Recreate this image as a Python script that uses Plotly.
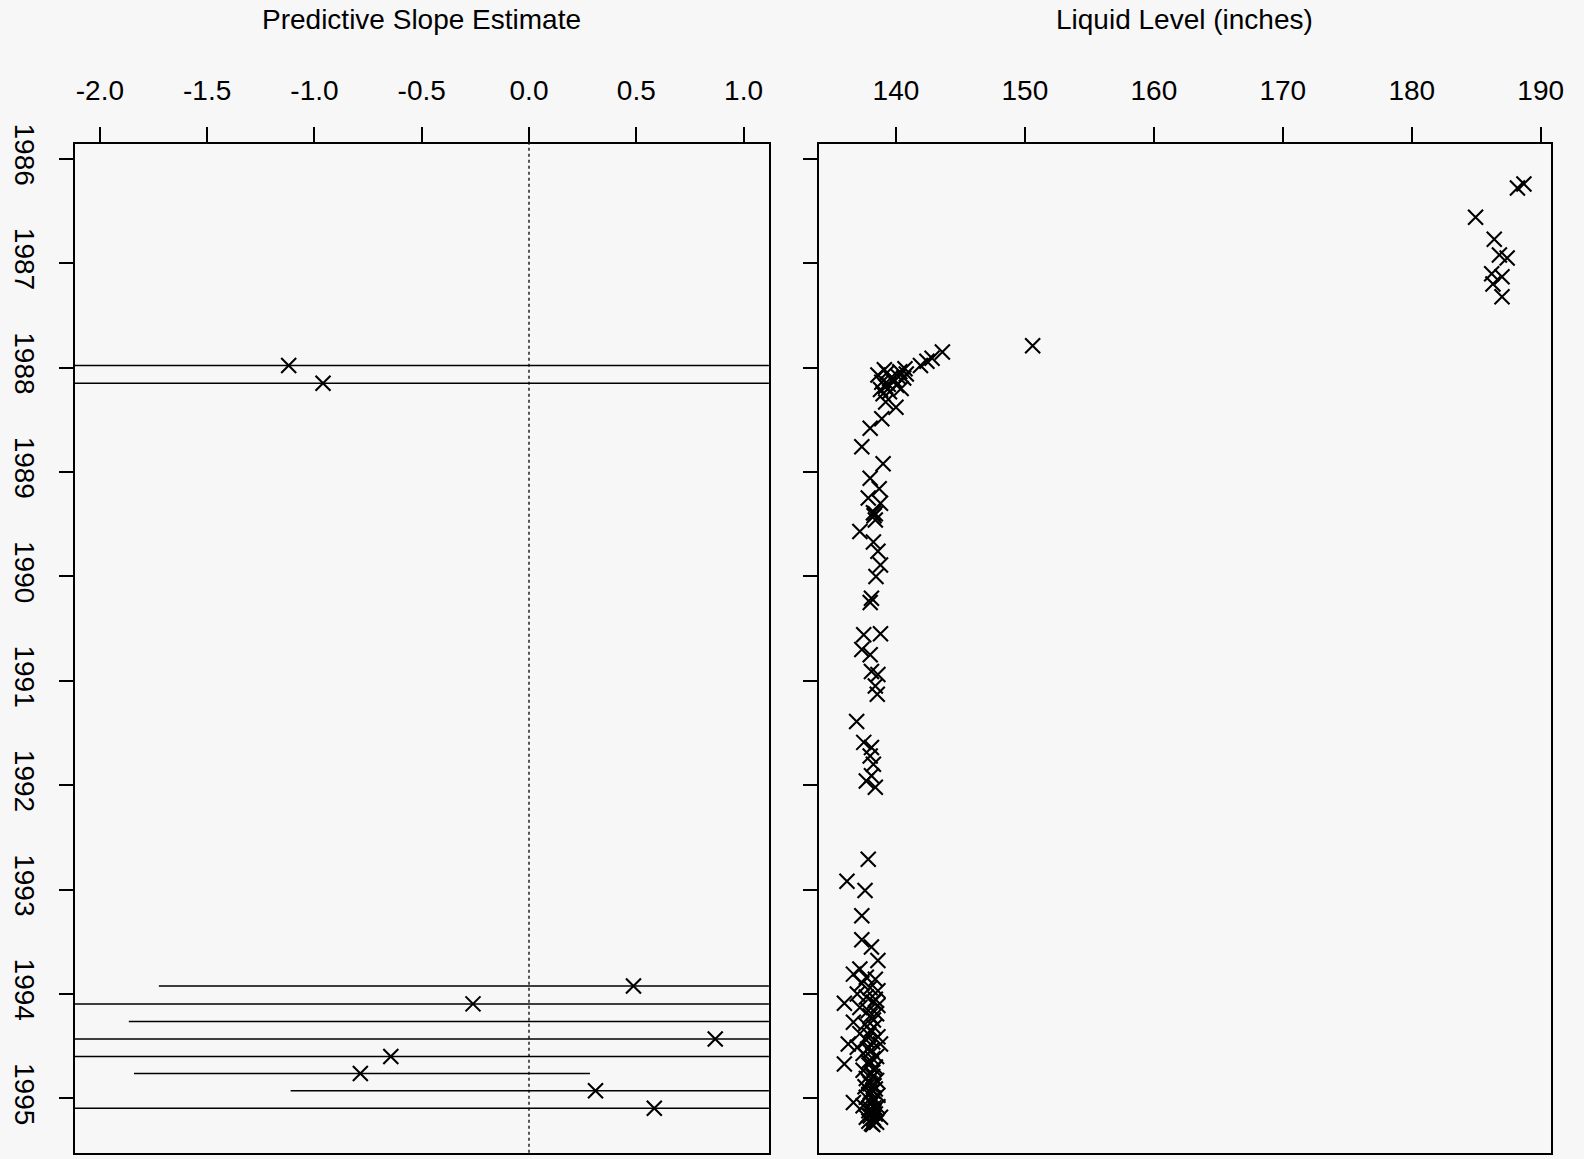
import plotly.graph_objects as go

# ---- data -------------------------------------------------------------
years = list(range(1986, 1996))
year_labels = [str(y) for y in years]

slope_ticks = [-2.0, -1.5, -1.0, -0.5, 0.0, 0.5, 1.0]
slope_tick_labels = ["-2.0", "-1.5", "-1.0", "-0.5", "0.0", "0.5", "1.0"]
level_ticks = [140, 150, 160, 170, 180, 190]

# predictive slope estimates with interval bounds (decimal year)
slope_dates = [1987.98, 1988.15, 1993.924, 1994.095, 1994.263, 1994.432,
               1994.600, 1994.762, 1994.927, 1995.095]
slope_est = [-1.12, -0.96, 0.487, -0.261, None, 0.868,
             -0.644, -0.786, 0.310, 0.584]
slope_lo = [-2.5, -2.5, -1.725, -2.5, -1.865, -2.5,
            -2.5, -1.841, -1.111, -2.5]
slope_hi = [1.5, 1.5, 1.5, 1.5, 1.5, 1.5,
            1.5, 0.284, 1.5, 1.5]

# liquid level readings (decimal year, inches)
level_dates = [
    1986.24, 1986.28, 1986.56, 1986.77, 1986.92, 1986.95, 1987.10, 1987.13,
    1987.20, 1987.32,
    1987.79, 1987.85, 1987.91, 1987.94, 1987.98, 1988.01, 1988.04, 1988.02,
    1988.10, 1988.14, 1988.18, 1988.17, 1988.10, 1988.23, 1988.20, 1988.07,
    1988.12, 1988.06, 1988.21, 1988.33, 1988.38, 1988.49, 1988.58, 1988.757,
    1988.05, 1988.13, 1988.16, 1988.09, 1988.25,
    1988.92, 1989.06, 1989.16, 1989.25, 1989.30, 1989.39, 1989.46, 1989.57,
    1989.67, 1989.76, 1989.89, 1990.00, 1990.21, 1990.25,
    1989.40, 1989.42,
    1990.56, 1990.55, 1990.70, 1990.75, 1990.91, 1990.94, 1991.05, 1991.13,
    1991.39, 1991.59, 1991.64, 1991.72, 1991.80, 1991.96, 1991.91, 1992.02,
    1992.71, 1992.92, 1993.01, 1993.25, 1993.48, 1993.55, 1993.68,
    1993.76, 1993.81, 1993.84, 1993.86, 1993.90, 1993.94, 1993.97, 1994.00,
    1994.03, 1994.09, 1994.08, 1994.13, 1994.16, 1994.19, 1994.27, 1994.29,
    1994.25, 1994.35, 1994.38, 1994.41, 1994.44, 1994.48, 1994.48, 1994.51,
    1994.54, 1994.57, 1994.60, 1994.67, 1994.65, 1994.70, 1994.73, 1994.76,
    1994.81, 1994.83, 1994.86, 1994.89, 1994.91, 1994.94, 1994.97, 1994.99,
    1995.04, 1995.02, 1995.07, 1995.08, 1995.10, 1995.15, 1995.16, 1995.19,
    1995.23, 1995.24, 1995.18, 1995.18,
    1994.05, 1994.11, 1994.21, 1994.32, 1994.39, 1994.46, 1994.53, 1994.62,
    1994.68, 1994.72, 1994.79, 1994.84, 1994.88, 1994.93, 1994.96, 1995.00,
    1995.05, 1995.09, 1995.12, 1995.14, 1995.17, 1995.21, 1995.22, 1995.25,
]
level_values = [
    188.7, 188.2, 184.95, 186.4, 186.8, 187.4, 186.2, 187.0,
    186.3, 187.0,
    150.6, 143.6, 142.8, 142.4, 141.9, 140.7, 140.3, 139.1,
    139.6, 138.9, 139.2, 140.05, 140.6, 139.5, 140.4, 138.6,
    139.9, 140.8, 138.8, 139.2, 140.0, 138.9, 138.0, 137.35,
    139.3, 139.8, 139.4, 140.2, 139.0,
    139.0, 138.0, 138.7, 137.85, 138.8, 138.25, 138.4, 137.2,
    138.25, 138.6, 138.8, 138.45, 138.1, 138.0,
    138.4, 138.3,
    137.5, 138.8, 137.35, 138.0, 138.1, 138.6, 138.4, 138.55,
    136.95, 137.5, 138.1, 138.0, 138.25, 137.7, 138.1, 138.4,
    137.85, 136.2, 137.6, 137.35, 137.35, 138.1, 138.6,
    137.2, 136.7, 137.7, 138.4, 137.35, 138.0, 138.6, 137.0,
    137.7, 136.0, 138.25, 137.2, 137.85, 138.5, 136.7, 137.6,
    138.25, 138.0, 137.2, 138.6, 137.7, 136.3, 138.8, 137.0,
    138.1, 137.45, 138.5, 136.0, 137.85, 138.4, 137.45, 138.1,
    137.7, 138.5, 138.0, 137.6, 138.4, 138.0, 138.6, 137.7,
    136.7, 138.25, 137.45, 138.6, 138.0, 138.4, 137.85, 138.25,
    138.5, 138.1, 137.7, 138.8,
    138.4, 138.6, 138.0, 138.3, 137.9, 138.2, 137.8, 138.2,
    137.9, 138.3, 138.2, 137.9, 138.3, 138.2, 137.9, 138.3,
    138.1, 138.3, 137.9, 138.2, 138.0, 138.3, 137.9, 138.2,
]

# ---- styling ------------------------------------------------------------
FONT = "Liberation Sans, Arial, Helvetica, sans-serif"
BG = "#f7f7f7"
INK = "black"
x_marker = dict(symbol="x-thin", size=15, color=INK,
                line=dict(color=INK, width=2.1))

fig = go.Figure()

# interval segments, one per estimate
seg_x, seg_y = [], []
for d, lo, hi in zip(slope_dates, slope_lo, slope_hi):
    seg_x += [lo, hi, None]
    seg_y += [d, d, None]
fig.add_trace(go.Scatter(x=seg_x, y=seg_y, mode="lines",
                         line=dict(color=INK, width=1.5),
                         xaxis="x", yaxis="y", showlegend=False,
                         hoverinfo="skip"))
fig.add_trace(go.Scatter(x=slope_est, y=slope_dates, mode="markers",
                         marker=x_marker, xaxis="x", yaxis="y",
                         showlegend=False))

fig.add_trace(go.Scatter(x=level_values, y=level_dates, mode="markers",
                         marker=x_marker, xaxis="x2", yaxis="y2",
                         showlegend=False))

# dotted reference line at zero slope
fig.add_shape(type="line", xref="x", yref="y domain", x0=0, x1=0, y0=0, y1=1,
              line=dict(color=INK, width=1.3, dash="dot"))

common_axis = dict(showline=True, linecolor=INK, linewidth=1.6, mirror=True,
                   ticks="outside", tickcolor=INK, tickwidth=1.6,
                   showgrid=False, zeroline=False, automargin=False,
                   tickfont=dict(family=FONT, size=28, color=INK))

y_domain = [0.0055, 0.876]
y_range = [1995.52, 1985.855]

fig.update_layout(
    width=1584, height=1159,
    margin=dict(l=0, r=0, t=0, b=0, autoexpand=False),
    paper_bgcolor=BG, plot_bgcolor=BG,
    font=dict(family=FONT, size=28, color=INK),
    xaxis=dict(domain=[0.0472, 0.4854], range=[-2.117, 1.118], side="top",
               tickvals=slope_ticks, ticktext=slope_tick_labels,
               ticklen=15, ticklabelstandoff=16, anchor="y", **common_axis),
    yaxis=dict(domain=y_domain, range=y_range, tickvals=years,
               ticktext=year_labels, tickangle=90, ticklen=14,
               ticklabelstandoff=10, anchor="x", **common_axis),
    xaxis2=dict(domain=[0.5172, 0.979], range=[134.05, 190.78], side="top",
                tickvals=level_ticks, ticklen=15, ticklabelstandoff=16,
                anchor="y2", **common_axis),
    yaxis2=dict(domain=y_domain, range=y_range, tickvals=years,
                showticklabels=False, ticklen=14, anchor="x2", **common_axis),
    annotations=[
        dict(text="Predictive Slope Estimate", xref="paper", yref="paper",
             x=0.2663, y=1 - 20 / 1159, xanchor="center", yanchor="middle",
             showarrow=False, font=dict(family=FONT, size=28, color=INK)),
        dict(text="Liquid Level (inches)", xref="paper", yref="paper",
             x=0.7481, y=1 - 20 / 1159, xanchor="center", yanchor="middle",
             showarrow=False, font=dict(family=FONT, size=28, color=INK)),
    ],
)

fig.write_html("out.html")
